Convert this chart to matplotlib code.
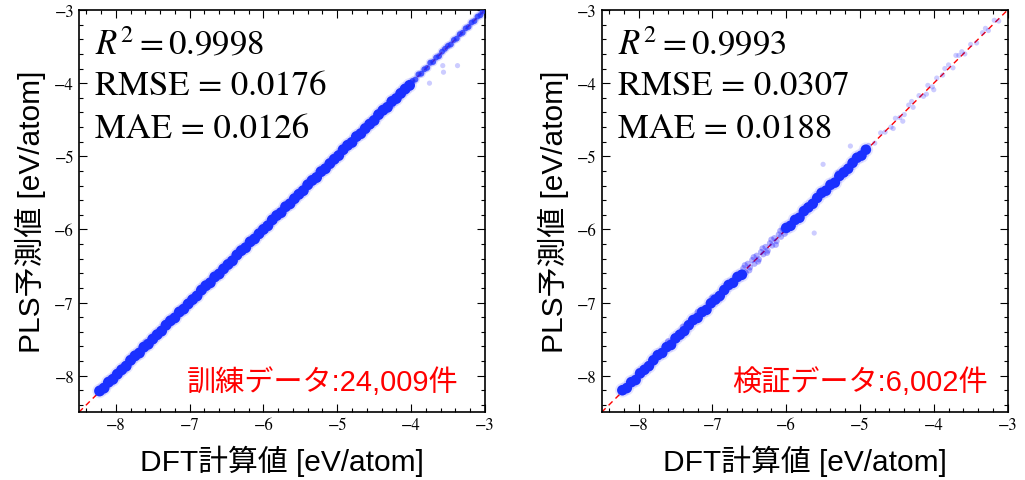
import matplotlib
matplotlib.use("Agg")
import matplotlib.pyplot as plt
from matplotlib.ticker import MultipleLocator

plt.rcParams['font.family'] = ['Liberation Sans', 'Noto Sans CJK JP', 'DejaVu Sans']
plt.rcParams['mathtext.fontset'] = 'stix'

# ---- data (DFT value, PLS prediction) ----
# training set: dense band
train_dft = [-8.22, -8.16, -8.10, -8.04, -7.98, -7.92, -7.86, -7.80, -7.74, -7.68,
             -7.62, -7.56, -7.50, -7.44, -7.38, -7.32, -7.26, -7.20, -7.14, -7.08,
             -7.02, -6.96, -6.90, -6.84, -6.78, -6.72, -6.66, -6.60, -6.54, -6.48,
             -6.42, -6.36, -6.30, -6.24, -6.18, -6.12, -6.06, -6.00, -5.94, -5.88,
             -5.82, -5.76, -5.70, -5.64, -5.58, -5.52, -5.46, -5.40, -5.34, -5.28,
             -5.22, -5.16, -5.10, -5.04, -4.98, -4.92, -4.86, -4.80, -4.74, -4.68,
             -4.62, -4.56, -4.50, -4.44, -4.38, -4.32, -4.26, -4.20, -4.14, -4.08,
             -4.02]
train_pred = [-8.21, -8.17, -8.09, -8.05, -7.98, -7.92, -7.87, -7.79, -7.73, -7.69,
              -7.61, -7.57, -7.50, -7.44, -7.39, -7.31, -7.25, -7.21, -7.13, -7.09,
              -7.02, -6.96, -6.91, -6.83, -6.77, -6.73, -6.65, -6.61, -6.54, -6.48,
              -6.43, -6.35, -6.29, -6.25, -6.17, -6.13, -6.06, -6.00, -5.95, -5.87,
              -5.81, -5.77, -5.69, -5.65, -5.58, -5.52, -5.47, -5.39, -5.33, -5.29,
              -5.21, -5.17, -5.10, -5.04, -4.99, -4.91, -4.85, -4.81, -4.73, -4.69,
              -4.62, -4.56, -4.51, -4.43, -4.37, -4.33, -4.25, -4.21, -4.14, -4.08,
              -4.03]
# training set: thinner upper band
train_dft_upper = [-3.98, -3.94, -3.90, -3.86, -3.82, -3.78, -3.74, -3.70, -3.66, -3.62,
                   -3.58, -3.54, -3.50, -3.46, -3.42, -3.38, -3.34, -3.30, -3.26, -3.22,
                   -3.18, -3.14, -3.10, -3.06, -3.03]
train_pred_upper = [-3.97, -3.95, -3.88, -3.87, -3.81, -3.79, -3.72, -3.71, -3.65, -3.63,
                    -3.57, -3.53, -3.49, -3.47, -3.41, -3.39, -3.33, -3.31, -3.25, -3.23,
                    -3.17, -3.15, -3.09, -3.07, -3.02]
# training set: outliers
train_dft_out = [-3.57, -3.56, -3.37, -3.75, -4.25, -4.60, -7.95, -7.60]
train_pred_out = [-3.76, -3.85, -3.76, -4.00, -4.31, -4.66, -7.90, -7.53]

# validation set: dense band
test_dft = [-8.22, -8.16, -8.10, -8.04, -7.98, -7.92, -7.86, -7.80, -7.74, -7.68,
            -7.62, -7.56, -7.50, -7.44, -7.38, -7.32, -7.26, -7.20, -7.14, -7.08,
            -7.02, -6.96, -6.90, -6.84, -6.78, -6.72, -6.66, -6.60,
            -6.00, -5.94, -5.88, -5.82, -5.76, -5.70, -5.64, -5.58, -5.52, -5.46,
            -5.40, -5.34, -5.28, -5.22, -5.16, -5.10, -5.04, -4.98, -4.92]
test_pred = [-8.20, -8.17, -8.09, -8.06, -7.97, -7.92, -7.87, -7.79, -7.72, -7.69,
             -7.61, -7.58, -7.49, -7.44, -7.39, -7.31, -7.24, -7.21, -7.13, -7.10,
             -7.01, -6.96, -6.91, -6.83, -6.76, -6.73, -6.65, -6.62,
             -5.98, -5.95, -5.87, -5.84, -5.75, -5.70, -5.65, -5.57, -5.50, -5.47,
             -5.39, -5.36, -5.27, -5.22, -5.17, -5.09, -5.02, -4.99, -4.91]
# validation set: looser middle band
test_dft_mid = [-6.58, -6.55, -6.52, -6.49, -6.46, -6.43, -6.40, -6.37, -6.34, -6.31,
                -6.28, -6.25, -6.22, -6.19, -6.16, -6.13, -6.10, -6.07, -6.04, -6.02,
                -6.56, -6.50, -6.44, -6.38, -6.32, -6.26, -6.20, -6.14, -6.08,
                -7.60, -7.20, -6.90, -7.40, -8.00, -7.00, -6.70, -6.85]
test_pred_mid = [-6.53, -6.59, -6.47, -6.52, -6.42, -6.47, -6.36, -6.41, -6.31, -6.34,
                 -6.24, -6.29, -6.19, -6.22, -6.12, -6.16, -6.07, -6.10, -6.00, -6.06,
                 -6.49, -6.56, -6.38, -6.44, -6.26, -6.32, -6.14, -6.21, -6.02,
                 -7.53, -7.13, -6.95, -7.33, -7.94, -6.93, -6.74, -6.80]
# validation set: sparse points
test_dft_sparse = [-5.62, -5.50, -5.13, -5.30, -5.75,
                   -4.88, -4.80, -4.72, -4.66, -4.58, -4.52, -4.46, -4.40, -4.34, -4.28,
                   -4.20, -4.14, -4.08, -4.02, -3.96, -3.88, -3.80, -3.74, -3.66, -3.58,
                   -3.50, -3.42, -3.34, -3.26, -3.18, -3.12, -4.55, -4.30, -4.10, -3.85,
                   -3.62, -3.30, -4.42, -4.00, -3.70]
test_pred_sparse = [-6.05, -5.11, -4.86, -5.22, -5.70,
                    -4.85, -4.82, -4.68, -4.67, -4.60, -4.48, -4.47, -4.43, -4.30, -4.33,
                    -4.17, -4.18, -4.03, -4.05, -3.93, -3.89, -3.75, -3.79, -3.62, -3.60,
                    -3.47, -3.45, -3.31, -3.28, -3.14, -3.15, -4.62, -4.25, -4.15, -3.80,
                    -3.57, -3.25, -4.52, -4.09, -3.62]

train_stats = ["$R^2 = 0.9998$", "RMSE = 0.0176", "MAE = 0.0126"]
test_stats = ["$R^2 = 0.9993$", "RMSE = 0.0307", "MAE = 0.0188"]
train_note = "訓練データ:24,009件"
test_note = "検証データ:6,002件"
lims = [-8.5, -3]
core = '#1a30ff'

fig = plt.figure(figsize=(10.25, 4.81), dpi=100)
ax1 = fig.add_axes([0.077, 0.141, 0.396, 0.836])
ax2 = fig.add_axes([0.587, 0.141, 0.396, 0.836])

# left: training data
ax1.plot(lims, lims, color='red', lw=1, ls=(0, (4, 3)), zorder=1)
ax1.scatter(train_dft_out, train_pred_out, s=14, color='blue', alpha=0.2, edgecolors='none', zorder=2)
ax1.scatter(train_dft_upper, train_pred_upper, s=40, color='blue', alpha=0.12, edgecolors='none', zorder=2)
ax1.scatter(train_dft_upper, train_pred_upper, s=18, color=core, alpha=0.75, edgecolors='none', zorder=3)
ax1.scatter(train_dft, train_pred, s=110, color='blue', alpha=0.1, edgecolors='none', zorder=2)
ax1.scatter(train_dft, train_pred, s=62, color=core, alpha=1.0, edgecolors='none', zorder=3)

# right: validation data
ax2.plot(lims, lims, color='red', lw=1, ls=(0, (4, 3)), zorder=1)
ax2.scatter(test_dft_sparse, test_pred_sparse, s=14, color='blue', alpha=0.2, edgecolors='none', zorder=2)
ax2.scatter(test_dft_mid, test_pred_mid, s=20, color='blue', alpha=0.3, edgecolors='none', zorder=2)
ax2.scatter(test_dft, test_pred, s=110, color='blue', alpha=0.1, edgecolors='none', zorder=2)
ax2.scatter(test_dft, test_pred, s=58, color=core, alpha=1.0, edgecolors='none', zorder=3)

panels = [(ax1, train_stats, train_note, 0.936), (ax2, test_stats, test_note, 0.95)]

for ax, stats, note, nx in panels:
    ax.set_xlim(lims)
    ax.set_ylim(lims)
    ax.xaxis.set_major_locator(MultipleLocator(1))
    ax.yaxis.set_major_locator(MultipleLocator(1))
    ax.xaxis.set_minor_locator(MultipleLocator(0.2))
    ax.yaxis.set_minor_locator(MultipleLocator(0.2))
    ax.tick_params(which='both', direction='in', top=True, right=True, width=0.8)
    ax.tick_params(which='major', length=6, labelsize=12)
    ax.tick_params(which='minor', length=3)
    for lab in ax.get_xticklabels() + ax.get_yticklabels():
        lab.set_fontfamily('STIXGeneral')
    for s in ax.spines.values():
        s.set_linewidth(1.2)
    ax.set_xlabel("DFT計算値 [eV/atom]", fontsize=21.5, labelpad=8)
    ax.set_ylabel("PLS予測値 [eV/atom]", fontsize=21.5, labelpad=6)
    for i, t in enumerate(stats):
        ax.text(0.04, 0.915 - 0.105 * i, t, transform=ax.transAxes, fontsize=25,
                fontfamily='STIXGeneral', va='center', ha='left')
    ax.text(nx, 0.075, note, transform=ax.transAxes, fontsize=21, color='red',
            ha='right', va='center')

fig.savefig("out.png", dpi=100)
